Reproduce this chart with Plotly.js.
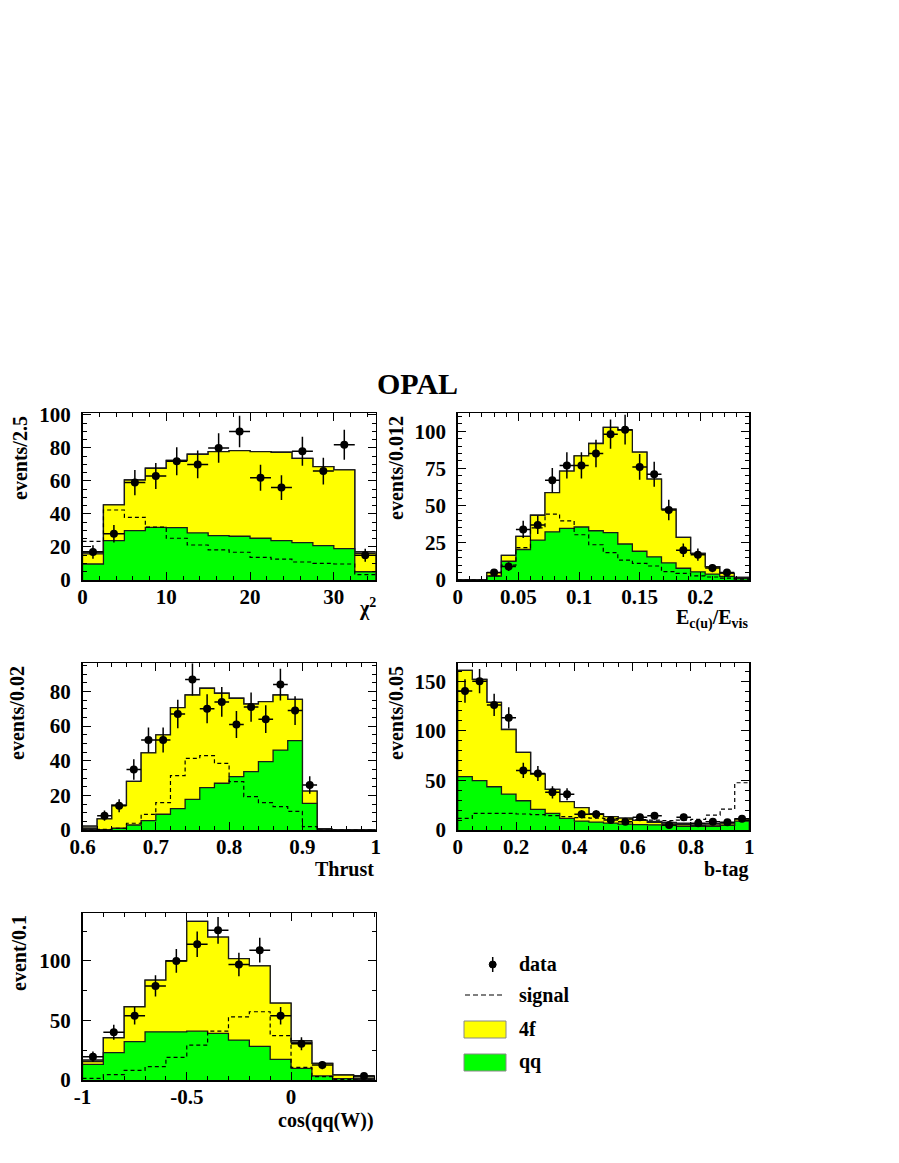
<!DOCTYPE html>
<html>
<head>
<meta charset="utf-8">
<script src="https://cdn.plot.ly/plotly-3.0.1.min.js"></script>
<style>html,body{margin:0;padding:0;background:#fff;}#chart{width:899px;height:1163px;}</style>
</head>
<body>
<div id="chart"></div>
<script>
// ---------------- DATA ----------------
// Panel 1: chi^2
const chi2_edges = [0,2.5,5,7.5,10,12.5,15,17.5,20,22.5,25,27.5,30,32.5,35];
const chi2_qq    = [9.7,23.8,29.9,31.9,31.7,28.5,26.9,26.5,25.3,23.8,22.6,20.8,19.0,5.0];
const chi2_4f    = [6.1,21.7,30.7,35.8,40.8,47.7,50.9,51.9,52.5,53.6,51.1,47.9,47.7,11.2];
const chi2_other = [1.4,0,0,0,0,0,0,0,0,0,0,0,0,1.0];
const chi2_signal= [23.4,42.4,38.0,32.0,25.3,21.2,18.2,16.8,13.7,12.7,10.9,10.1,9.7,3.2];
const chi2_data_x= [1.25,3.75,6.25,8.75,11.25,13.75,16.25,18.75,21.25,23.75,26.25,28.75,31.25,33.75];
const chi2_data  = [17,28,59,63,72,70,80,90,62,56,78,66,82,15];
const chi2_err   = [4.1,5.3,7.7,7.9,8.5,8.4,8.9,9.5,7.9,7.5,8.8,8.1,9.1,3.9];
const chi2_xticks = [0,10,20,30];
const chi2_xlabels = ['0','10','20','30'];
const chi2_yticks = [0,20,40,60,80,100];
const chi2_ylabels = ['0','20','40','60','80','100'];

// Panel 2: E_c(u)/E_vis
const ec_edges = [0,0.012,0.024,0.036,0.048,0.06,0.072,0.084,0.096,0.108,0.12,0.132,0.144,0.156,0.168,0.18,0.192,0.204,0.216,0.228,0.24];
const ec_qq    = [0,0,2.7,12.6,20.5,26.8,32.4,34.7,35.6,33.1,31.8,24.2,19.3,15.6,11.5,7.9,5.5,4.0,2.4,1.0];
const ec_4f    = [0,0,2.2,3.9,8.8,16.7,26.3,38.5,47.8,58.6,70.7,76.5,66.6,52.2,36.1,20.7,12.4,4.9,2.1,0.8];
const ec_other = [0,0,0,0,0,0,0,0,0,0,0,0,0,0,0,0,0,0,0,0];
const ec_signal= [0,0,2.7,10.0,21.7,35.0,44.2,39.7,30.4,23.7,18.4,13.4,11.2,9.4,5.6,4.5,2.8,2.0,1.2,0.6];
const ec_data_x= [0.030,0.042,0.054,0.066,0.078,0.090,0.102,0.114,0.126,0.138,0.150,0.162,0.174,0.186,0.198,0.210,0.222];
const ec_data  = [5,9,34,37,67,77,77,85,98,101,76,71,47,20,17,8,5];
const ec_err   = [2.2,3.0,5.8,6.1,8.2,8.8,8.8,9.2,9.9,10.0,8.7,8.4,6.9,4.5,4.1,2.8,2.2];
const ec_xticks = [0,0.05,0.1,0.15,0.2];
const ec_xlabels = ['0','0.05','0.1','0.15','0.2'];
const ec_yticks = [0,25,50,75,100];
const ec_ylabels = ['0','25','50','75','100'];

// Panel 3: Thrust
const thr_edges = [0.6,0.62,0.64,0.66,0.68,0.7,0.72,0.74,0.76,0.78,0.8,0.82,0.84,0.86,0.88,0.9,0.92,0.94,0.96,0.98,1.0];
const thr_qq    = [0.3,0.2,1.0,2.9,5.4,9.1,12.3,17.7,24.5,27.0,30.8,33.7,39.5,46.2,51.6,15.4,0.2,0,0,0];
const thr_4f    = [0.7,6.2,13.3,25.2,39.1,45.8,58.4,60.3,57.4,52.0,45.3,39.1,34.7,31.8,23.9,7.1,0.6,0,0,0];
const thr_other = [1.3,0,0,0,0,0,0,0,0,0,0,0,0,0,0,0,0,0,0,0];
const thr_signal= [0,0.4,1.0,3.9,9.0,15.8,31.4,41.4,43.0,38.5,27.9,19.3,15.8,13.5,10.8,1.9,0,0,0,0];
const thr_data_x= [0.63,0.65,0.67,0.69,0.71,0.73,0.75,0.77,0.79,0.81,0.83,0.85,0.87,0.89,0.91];
const thr_data  = [8.3,14,35,52,52,67,87,70,74,61,71,64,84,69,26];
const thr_err   = [2.9,3.7,5.9,7.2,7.2,8.2,9.3,8.4,8.6,7.8,8.4,8.0,9.2,8.3,5.1];
const thr_xticks = [0.6,0.7,0.8,0.9,1.0];
const thr_xlabels = ['0.6','0.7','0.8','0.9','1'];
const thr_yticks = [0,20,40,60,80];
const thr_ylabels = ['0','20','40','60','80'];

// Panel 4: b-tag
const bt_edges = [0,0.05,0.1,0.15,0.2,0.25,0.3,0.35,0.4,0.45,0.5,0.55,0.6,0.65,0.7,0.75,0.8,0.85,0.9,0.95,1.0];
const bt_qq    = [53.7,49.7,43.6,36.2,29.5,20.8,16.8,11.7,9.0,8.0,7.0,6.0,5.5,5.2,4.7,3.7,3.7,3.7,4.7,9.0];
const bt_4f    = [107.1,102.1,85.0,65.1,48.7,35.6,24.1,16.8,13.5,8.3,6.5,6.0,4.3,2.4,1.4,1.6,1.0,1.3,1.5,2.0];
const bt_other = [0,0,0,0,0,0,0,0,0,0,0,0,0,1.0,1.5,1.5,1.5,1.5,1.0,0];
const bt_signal= [11.7,16.8,16.8,16.8,16.1,15.4,14.4,13.4,12.5,12.0,11.5,11.0,10.5,10.0,9.5,10.0,10.7,15.0,21.0,47.6];
const bt_data_x= [0.025,0.075,0.125,0.175,0.225,0.275,0.325,0.375,0.425,0.475,0.525,0.575,0.625,0.675,0.725,0.775,0.825,0.875,0.925,0.975];
const bt_data  = [140,150,126,113,60,57,38,36,15.8,15.8,10,8.4,12.8,14.4,5,12.8,6.7,8.4,7.7,11.4];
const bt_err   = [11.8,12.2,11.2,10.6,7.7,7.5,6.2,6.0,4.0,4.0,3.2,2.9,3.6,3.8,2.2,3.6,2.6,2.9,2.8,3.4];
const bt_xticks = [0,0.2,0.4,0.6,0.8,1.0];
const bt_xlabels = ['0','0.2','0.4','0.6','0.8','1'];
const bt_yticks = [0,50,100,150];
const bt_ylabels = ['0','50','100','150'];

// Panel 5: cos(qq(W))
const cos_edges = [-1,-0.9,-0.8,-0.7,-0.6,-0.5,-0.4,-0.3,-0.2,-0.1,0,0.1,0.2,0.3,0.4];
const cos_qq    = [13.1,23.0,32.2,40.5,40.5,41.0,39.1,33.5,28.2,17.3,9.8,3.4,1.1,0.6];
const cos_4f    = [2.4,12.5,29.3,43.3,59.5,92.2,80.9,68.5,67.6,47.2,21.7,10.6,3.1,0.8];
const cos_other = [1.3,0,0,0,0,0,0,0,0,0,1.5,0,0,2.0];
const cos_signal= [1.4,4.5,8.1,11.2,19.0,29.3,41.0,53.0,57.3,37.3,10.6,2.8,0.5,0];
const cos_data_x= [-0.95,-0.85,-0.75,-0.65,-0.55,-0.45,-0.35,-0.25,-0.15,-0.05,0.05,0.15,0.35];
const cos_data  = [19.5,40,54,79,100,114,125.7,97,109,54,30.5,12.5,3.4];
const cos_err   = [4.4,6.3,7.3,8.9,10.0,10.7,11.2,9.8,10.4,7.3,5.5,3.5,1.8];
const cos_xticks = [-1,-0.5,0];
const cos_xlabels = ['-1','-0.5','0'];
const cos_yticks = [0,50,100];
const cos_ylabels = ['0','50','100'];

// ---------------- LAYOUT / STYLE ----------------
const W = 899, H = 1163;
const PX = x => x / W;
const PY = y => 1 - y / H;
const FONT = '"Liberation Serif", "Times New Roman", serif';
const YELLOW = '#ffff00', GREEN = '#00ff00', OTHER = '#9a9a7a';
const OUT = '#1a1a1a';

const panels = [
  {id:'', edges:chi2_edges, qq:chi2_qq, f4:chi2_4f, oth:chi2_other, sig:chi2_signal, dx:chi2_data_x, d:chi2_data, e:chi2_err,
   box:[82.5,375.7,413.3,580], xr:[0,35], yr:[0,101], xt:chi2_xticks, xl:chi2_xlabels, yt:chi2_yticks, yl:chi2_ylabels, xmin:2, ymin:5},
  {id:'2', edges:ec_edges, qq:ec_qq, f4:ec_4f, oth:ec_other, sig:ec_signal, dx:ec_data_x, d:ec_data, e:ec_err,
   box:[457.7,749.3,413.3,580], xr:[0,0.2404], yr:[0,112], xt:ec_xticks, xl:ec_xlabels, yt:ec_yticks, yl:ec_ylabels, xmin:0.01, ymin:5},
  {id:'3', edges:thr_edges, qq:thr_qq, f4:thr_4f, oth:thr_other, sig:thr_signal, dx:thr_data_x, d:thr_data, e:thr_err,
   box:[82.5,375.7,663.3,830], xr:[0.6,1.0], yr:[0,96.3], xt:thr_xticks, xl:thr_xlabels, yt:thr_yticks, yl:thr_ylabels, xmin:0.02, ymin:5},
  {id:'4', edges:bt_edges, qq:bt_qq, f4:bt_4f, oth:bt_other, sig:bt_signal, dx:bt_data_x, d:bt_data, e:bt_err,
   box:[457.7,749.3,663.3,830], xr:[0,1.0], yr:[0,168], xt:bt_xticks, xl:bt_xlabels, yt:bt_yticks, yl:bt_ylabels, xmin:0.05, ymin:10},
  {id:'5', edges:cos_edges, qq:cos_qq, f4:cos_4f, oth:cos_other, sig:cos_signal, dx:cos_data_x, d:cos_data, e:cos_err,
   box:[82.5,375.7,913.3,1080], xr:[-1,0.406], yr:[0,140], xt:cos_xticks, xl:cos_xlabels, yt:cos_yticks, yl:cos_ylabels, xmin:0.1, ymin:25}
];

function closedStep(edges, vals) {
  const x = [edges[0]], y = [0];
  for (let i = 0; i < vals.length; i++) { x.push(edges[i]); y.push(vals[i]); }
  x.push(edges[vals.length]); y.push(vals[vals.length-1]);
  x.push(edges[vals.length]); y.push(0);
  return {x, y};
}
function openStep(edges, vals) {
  const x = [], y = [];
  for (let i = 0; i < vals.length; i++) { x.push(edges[i]); y.push(vals[i]); }
  x.push(edges[vals.length]); y.push(vals[vals.length-1]);
  return {x, y};
}

const traces = [];
const layout = {
  width: W, height: H, margin: {l:0, r:0, t:0, b:0},
  paper_bgcolor: '#fff', plot_bgcolor: '#fff', showlegend: false,
  font: {family: FONT, size: 20, color: '#000', weight: 'bold'},
  annotations: [], shapes: []
};

panels.forEach(p => {
  const xa = 'x' + p.id, ya = 'y' + p.id;
  const tot = p.qq.map((v,i) => v + p.f4[i] + p.oth[i]);
  const yel = p.qq.map((v,i) => v + p.f4[i]);
  const s1 = closedStep(p.edges, tot);
  traces.push({x:s1.x, y:s1.y, xaxis:xa, yaxis:ya, mode:'lines', line:{shape:'hv', color:OUT, width:1.3},
               fill:'tozeroy', fillcolor:OTHER, hoverinfo:'skip'});
  const s2 = closedStep(p.edges, yel);
  traces.push({x:s2.x, y:s2.y, xaxis:xa, yaxis:ya, mode:'lines', line:{shape:'hv', color:OUT, width:1.3},
               fill:'tozeroy', fillcolor:YELLOW, hoverinfo:'skip'});
  const s3 = closedStep(p.edges, p.qq);
  traces.push({x:s3.x, y:s3.y, xaxis:xa, yaxis:ya, mode:'lines', line:{shape:'hv', color:OUT, width:1.3},
               fill:'tozeroy', fillcolor:GREEN, hoverinfo:'skip'});
  const s4 = openStep(p.edges, p.sig);
  traces.push({x:s4.x, y:s4.y, xaxis:xa, yaxis:ya, mode:'lines', line:{shape:'hv', color:'#000', width:1.2, dash:'4px,3px'},
               hoverinfo:'skip'});
  const half = (p.edges[1] - p.edges[0]) / 2;
  traces.push({x:p.dx, y:p.d, xaxis:xa, yaxis:ya, mode:'markers', type:'scatter',
               marker:{color:'#000', size:8, symbol:'circle'},
               error_y:{type:'data', array:p.e, visible:true, color:'#000', thickness:1.5, width:0},
               error_x:{type:'constant', value:half, visible:true, color:'#000', thickness:1.5, width:0}});

  const [x0,x1,y0,y1] = p.box;
  const common = {
    showline:true, linecolor:'#000', linewidth:1.5, mirror:'ticks',
    ticks:'inside', ticklen:8, tickwidth:1, tickcolor:'#000',
    showgrid:false, zeroline:false, fixedrange:true,
    tickfont:{family:FONT, size:21, color:'#000', weight:'bold'},
    tickmode:'array'
  };
  layout['xaxis' + p.id] = Object.assign({}, common, {
    domain:[PX(x0), PX(x1)], range:p.xr, anchor:ya,
    tickvals:p.xt, ticktext:p.xl, ticklabelstandoff:-3,
    minor:{ticks:'inside', ticklen:4, tickwidth:1, tickcolor:'#000', tickmode:'linear', tick0:p.xr[0], dtick:p.xmin}
  });
  layout['yaxis' + p.id] = Object.assign({}, common, {
    domain:[PY(y1), PY(y0)], range:p.yr, anchor:xa,
    tickvals:p.yt, ticktext:p.yl, ticklabelstandoff:6,
    minor:{ticks:'inside', ticklen:4, tickwidth:1, tickcolor:'#000', tickmode:'linear', tick0:0, dtick:p.ymin}
  });
});

// Titles
function ann(text, x, y, opts) {
  layout.annotations.push(Object.assign({
    text:text, xref:'paper', yref:'paper', x:PX(x), y:PY(y), showarrow:false,
    xanchor:'center', yanchor:'middle', font:{family:FONT, size:20, color:'#000', weight:'bold'}
  }, opts || {}));
}
ann('OPAL', 417, 383, {font:{family:FONT, size:30, color:'#000', weight:'bold'}});
// y-axis titles
ann('events/2.5', 20, 458, {textangle:-90});
ann('events/0.012', 396, 468, {textangle:-90});
ann('events/0.02', 17, 713, {textangle:-90});
ann('events/0.05', 396, 713, {textangle:-90});
ann('event/0.1', 19, 953, {textangle:-90});
// x-axis titles
ann('χ<sup>2</sup>', 378, 607, {xanchor:'right'});
ann('E<sub>c(u)</sub>/E<sub>vis</sub>', 750, 619, {xanchor:'right'});
ann('Thrust', 376, 869, {xanchor:'right'});
ann('b-tag', 750, 869, {xanchor:'right'});
ann('cos(qq(W))', 376, 1120, {xanchor:'right'});

// Legend (drawn manually)
const lg = {x0:464, x1:506, tx:517};
layout.shapes.push({type:'line', xref:'paper', yref:'paper', x0:PX(492.7), x1:PX(492.7), y0:PY(957), y1:PY(972), line:{color:'#000', width:1.5}});
layout.shapes.push({type:'circle', xref:'paper', yref:'paper', x0:PX(489.2), x1:PX(496.2), y0:PY(961), y1:PY(968), fillcolor:'#000', line:{color:'#000', width:1}});
layout.shapes.push({type:'line', xref:'paper', yref:'paper', x0:PX(465), x1:PX(505), y0:PY(995), y1:PY(995), line:{color:'#000', width:1.2, dash:'5px,3px'}});
layout.shapes.push({type:'rect', xref:'paper', yref:'paper', x0:PX(lg.x0), x1:PX(lg.x1), y0:PY(1038), y1:PY(1021), fillcolor:YELLOW, line:{color:'#888', width:1}});
layout.shapes.push({type:'rect', xref:'paper', yref:'paper', x0:PX(lg.x0), x1:PX(lg.x1), y0:PY(1071), y1:PY(1054), fillcolor:GREEN, line:{color:'#888', width:1}});
ann('data', lg.tx, 964, {xanchor:'left'});
ann('signal', lg.tx, 995, {xanchor:'left'});
ann('4f', lg.tx, 1029, {xanchor:'left'});
ann('qq', lg.tx, 1061, {xanchor:'left'});

Plotly.newPlot('chart', traces, layout, {staticPlot:true, displayModeBar:false});
</script>
</body>
</html>
